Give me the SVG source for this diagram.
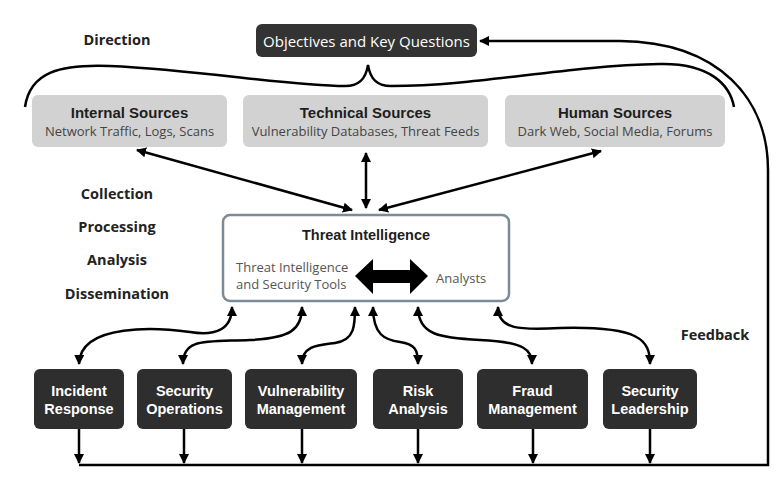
<svg xmlns="http://www.w3.org/2000/svg" width="782" height="480" viewBox="0 0 782 480">
<defs>
<marker id="ah" viewBox="0 0 10 10" refX="9" refY="5" markerWidth="4" markerHeight="4" orient="auto-start-reverse" markerUnits="strokeWidth">
<path d="M0,0 L10,5 L0,10 z" fill="#000"/>
</marker>
<style>
.src{fill:#d2d2d2}
.dark{fill:#2e2e2e}
.t1{font-family:"Liberation Sans",Arial,sans-serif;font-weight:bold;font-size:15px;fill:#1e1e1e;text-anchor:middle}
.t2{font-family:"Open Sans",sans-serif;font-size:13px;fill:#444;text-anchor:middle}
.bt{font-family:"Liberation Sans",Arial,sans-serif;font-weight:bold;font-size:14.5px;fill:#fff;text-anchor:middle}
.lab{font-family:"Open Sans",sans-serif;font-weight:bold;font-size:14.5px;fill:#222;text-anchor:middle}
.c{fill:none;stroke:#000;stroke-width:2.5}
.ca{fill:none;stroke:#000;stroke-width:2.5;marker-end:url(#ah)}
.cb{fill:none;stroke:#000;stroke-width:2.5;marker-start:url(#ah);marker-end:url(#ah)}
</style>
</defs>
<rect width="782" height="480" fill="#fff"/>

<g id="labels">
<text class="lab" x="117" y="45">Direction</text>
<text class="lab" x="117" y="199">Collection</text>
<text class="lab" x="117" y="232">Processing</text>
<text class="lab" x="117" y="265">Analysis</text>
<text class="lab" x="117" y="299">Dissemination</text>
<text class="lab" x="715" y="340">Feedback</text>
</g>

<g id="objectives">
<rect x="256" y="24" width="221" height="33" rx="6" fill="#333"/>
<text x="366.5" y="46.5" font-family="'Open Sans',sans-serif" font-size="15" fill="#fff" text-anchor="middle">Objectives and Key Questions</text>
</g>

<g id="internal">
<rect class="src" x="32" y="95" width="195" height="52" rx="6"/>
<text class="t1" x="129.5" y="118">Internal Sources</text>
<text class="t2" x="129.5" y="136">Network Traffic, Logs, Scans</text>
</g>
<g id="technical">
<rect class="src" x="243" y="95" width="245" height="52" rx="6"/>
<text class="t1" x="365.5" y="118">Technical Sources</text>
<text class="t2" x="365.5" y="136">Vulnerability Databases, Threat Feeds</text>
</g>
<g id="human">
<rect class="src" x="505" y="95" width="220" height="52" rx="6"/>
<text class="t1" x="615" y="118">Human Sources</text>
<text class="t2" x="615" y="136">Dark Web, Social Media, Forums</text>
</g>

<g id="threat-intelligence">
<rect x="223" y="215" width="286" height="86" rx="7" fill="#fff" stroke="#7d8b96" stroke-width="2.5"/>
<text x="366" y="240" font-family="'Liberation Sans',Arial,sans-serif" font-weight="bold" font-size="14.5" fill="#1e1e1e" text-anchor="middle">Threat Intelligence</text>
<text x="236" y="272" font-family="'Open Sans',sans-serif" font-size="13" fill="#555">Threat Intelligence</text>
<text x="236" y="289" font-family="'Open Sans',sans-serif" font-size="13" fill="#555">and Security Tools</text>
<polygon points="355,276 373,259 373,270 410,270 410,259 428,276 410,294 410,283 373,283 373,294" fill="#000"/>
<text x="436" y="283" font-family="'Open Sans',sans-serif" font-size="13" fill="#555">Analysts</text>
</g>

<g id="incident-response">
<rect class="dark" x="34" y="369" width="90" height="60" rx="6"/>
<text class="bt" x="79" y="396">Incident</text>
<text class="bt" x="79" y="414">Response</text>
</g>
<g id="security-operations">
<rect class="dark" x="137" y="369" width="95" height="60" rx="6"/>
<text class="bt" x="184.5" y="396">Security</text>
<text class="bt" x="184.5" y="414">Operations</text>
</g>
<g id="vulnerability-management">
<rect class="dark" x="245" y="369" width="112" height="60" rx="6"/>
<text class="bt" x="301" y="396">Vulnerability</text>
<text class="bt" x="301" y="414">Management</text>
</g>
<g id="risk-analysis">
<rect class="dark" x="373" y="369" width="90" height="60" rx="6"/>
<text class="bt" x="418" y="396">Risk</text>
<text class="bt" x="418" y="414">Analysis</text>
</g>
<g id="fraud-management">
<rect class="dark" x="477" y="369" width="111" height="60" rx="6"/>
<text class="bt" x="532.5" y="396">Fraud</text>
<text class="bt" x="532.5" y="414">Management</text>
</g>
<g id="security-leadership">
<rect class="dark" x="603" y="369" width="94" height="60" rx="6"/>
<text class="bt" x="650" y="396">Security</text>
<text class="bt" x="650" y="414">Leadership</text>
</g>

<g id="connectors">
<path class="c" d="M25,107 C30,72 60,64 110,66 C200,70 290,86 345,86 C360,86 366,78 368,65 C370,78 376,86 391,86 C480,86 560,66 660,64 C710,63 730,85 734,107"/>
<path class="ca" d="M79,465 L768,465 L768,170 C768,100 720,42 620,41 L480,41"/>
<path class="cb" d="M137,150 L352,210"/>
<path class="cb" d="M366,153 L366,208"/>
<path class="cb" d="M601,151 L379,210"/>
<path class="cb" d="M79,364 C80,322 160,328 190,332 C215,336 232,330 232,307"/>
<path class="cb" d="M183,364 C183,338 205,342 250,340 C290,338 302,330 302,307"/>
<path class="cb" d="M302,364 C302,345 320,345 335,343 C355,340 355,325 355,307"/>
<path class="cb" d="M373,307 C373,335 385,340 400,342 C415,344 418,350 418,364"/>
<path class="cb" d="M418,307 C418,335 440,338 480,340 C525,342 532,350 532,364"/>
<path class="cb" d="M498,307 C498,330 520,330 560,328 C640,326 650,340 650,364"/>
<path class="ca" d="M79,429 L79,463"/>
<path class="ca" d="M184,429 L184,463"/>
<path class="ca" d="M302,429 L302,463"/>
<path class="ca" d="M418,429 L418,463"/>
<path class="ca" d="M533,429 L533,463"/>
<path class="ca" d="M650,429 L650,463"/>
</g>
</svg>
